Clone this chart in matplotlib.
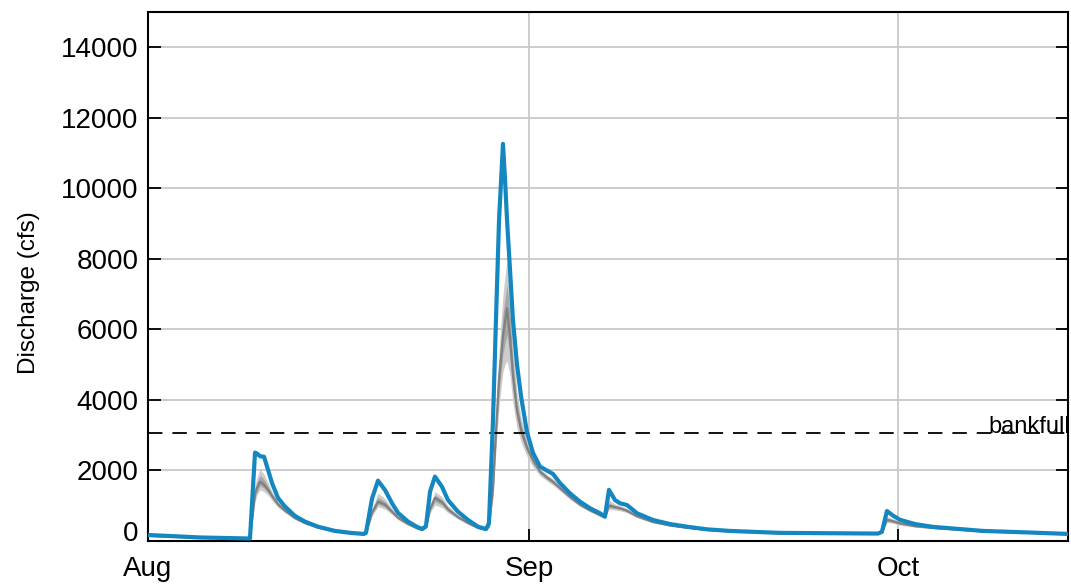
import numpy as np
import pandas as pd
import matplotlib
matplotlib.use("Agg")
import matplotlib.pyplot as plt
import matplotlib.dates as mdates

plt.rcParams["font.family"] = ["Liberation Sans", "DejaVu Sans"]

# time in days since Aug 1
day = [0.00, 4.23, 8.29, 8.70, 8.86, 9.11, 9.43, 9.76, 10.08, 10.57, 11.14, 11.95,
       12.76, 13.82, 15.20, 16.59, 17.56, 17.72, 18.21, 18.70, 19.27, 19.84,
       20.33, 21.14, 21.87, 22.28, 22.60, 22.93, 23.33, 23.90, 24.39, 25.20,
       26.02, 26.83, 27.48, 27.72, 28.05, 28.29, 28.54, 28.86, 29.02, 29.19,
       29.43, 29.67, 30.00, 30.33, 30.81, 31.30, 31.87, 32.44, 32.93, 33.50,
       34.31, 35.12, 35.93, 36.75, 37.15, 37.48, 37.97, 38.37, 38.94, 39.76,
       41.06, 42.44, 43.82, 45.45, 47.32, 51.38, 55.45, 59.35, 59.67, 60.08,
       60.57, 61.14, 62.36, 63.82, 67.89, 71.71, 74.80]

# observed discharge (cfs)
obs = [170, 100, 70, 2505, 2480, 2400, 2390, 2015, 1645, 1220, 975, 710,
       550, 405, 285, 225, 200, 230, 1200, 1710, 1445, 1070,
       795, 550, 400, 340, 420, 1400, 1825, 1540, 1160, 830,
       595, 405, 340, 500, 3430, 6270, 9100, 11260, 10300, 9100,
       7700, 6270, 5000, 4100, 3090, 2500, 2110, 1995, 1900, 1640,
       1350, 1115, 930, 785, 690, 1450, 1160, 1070, 1020, 785,
       595, 480, 405, 330, 285, 230, 220, 210, 260, 850,
       720, 600, 480, 400, 285, 240, 200]

# ensemble spread: low / median / high
ens_lo = [130, 80, 55, 1100, 1300, 1450, 1400, 1300, 1150, 950, 800, 610,
          480, 360, 255, 205, 185, 200, 700, 975, 900, 750,
          600, 450, 340, 300, 360, 800, 1020, 950, 800, 620,
          470, 350, 300, 380, 1200, 2600, 3800, 4800, 5000, 5100,
          4700, 3900, 3200, 2800, 2400, 2100, 1850, 1700, 1580, 1420,
          1180, 980, 830, 700, 640, 900, 880, 860, 800, 660,
          510, 420, 360, 300, 265, 215, 205, 195, 230, 520,
          500, 450, 390, 350, 265, 225, 185]
ens_med = [145, 90, 62, 1350, 1500, 1680, 1600, 1450, 1280, 1040, 860, 650,
           510, 380, 270, 215, 192, 215, 800, 1115, 1030, 830,
           660, 480, 360, 315, 380, 900, 1220, 1100, 900, 680,
           510, 370, 315, 420, 1500, 3100, 4600, 5800, 6200, 6600,
           5800, 4700, 3700, 3150, 2650, 2300, 1970, 1800, 1680, 1500,
           1250, 1030, 870, 730, 670, 1000, 960, 930, 860, 700,
           540, 440, 375, 315, 272, 222, 212, 202, 245, 600,
           560, 500, 420, 370, 275, 232, 192]
ens_hi = [160, 95, 68, 1600, 1800, 2040, 1900, 1650, 1400, 1120, 910, 680,
          530, 395, 278, 220, 196, 225, 900, 1360, 1200, 920,
          720, 510, 380, 330, 400, 1000, 1400, 1250, 1000, 740,
          550, 390, 330, 460, 1800, 3600, 5400, 7000, 7500, 7970,
          7000, 5500, 4200, 3500, 2850, 2450, 2050, 1880, 1760, 1570,
          1300, 1070, 900, 760, 700, 1160, 1050, 1000, 920, 740,
          570, 460, 390, 325, 280, 228, 218, 208, 255, 700,
          630, 550, 450, 390, 280, 238, 198]

bankfull = 3050
start = pd.Timestamp("2011-08-01")
t = start + pd.to_timedelta(day, unit="D")

fig = plt.figure(figsize=(10.71, 5.87), dpi=100)
ax = fig.add_axes([0.1382, 0.0784, 0.859, 0.9012])

lo = np.array(ens_lo)
hi = np.array(ens_hi)
med = np.array(ens_med)
ax.fill_between(t, lo, hi, color="#cdcdcd", lw=0, zorder=2)
ax.fill_between(t, (lo + med) / 2, (med + hi) / 2, color="#a6a6a6", lw=0, zorder=2)
ax.plot(t, med, color="#808080", lw=1.6, zorder=3)
ax.plot(t, obs, color="#1486c0", lw=3.0, zorder=4)

ax.axhline(bankfull, color="black", lw=1.3, dashes=(8, 5.5), zorder=3)
ax.text(start + pd.Timedelta(days=68.3), bankfull, "bankfull", fontsize=17,
        ha="left", va="baseline", zorder=5)

ax.set_xlim(start, start + pd.Timedelta(days=74.8))
ax.set_ylim(0, 15000)
ax.set_yticks(np.arange(0, 14001, 2000))
ax.xaxis.set_major_locator(mdates.MonthLocator())
ax.xaxis.set_major_formatter(mdates.DateFormatter("%b"))

ax.grid(True, color="#c8c8c8", lw=1.3)
ax.set_axisbelow(True)
ax.tick_params(axis="y", direction="in", length=9, width=1.3, labelsize=20,
               pad=7, right=True)
ax.tick_params(axis="x", direction="in", length=9, width=1.3, labelsize=20,
               pad=11)
for s in ax.spines.values():
    s.set_linewidth(1.5)

# the zero label sits just above the bottom axis line
ax.yaxis.get_major_ticks()[0].label1.set_va("baseline")

ax.set_ylabel("Discharge (cfs)", fontsize=17.5)
ax.yaxis.set_label_coords(-0.117, 0.47)

fig.savefig("out.png", dpi=100)
